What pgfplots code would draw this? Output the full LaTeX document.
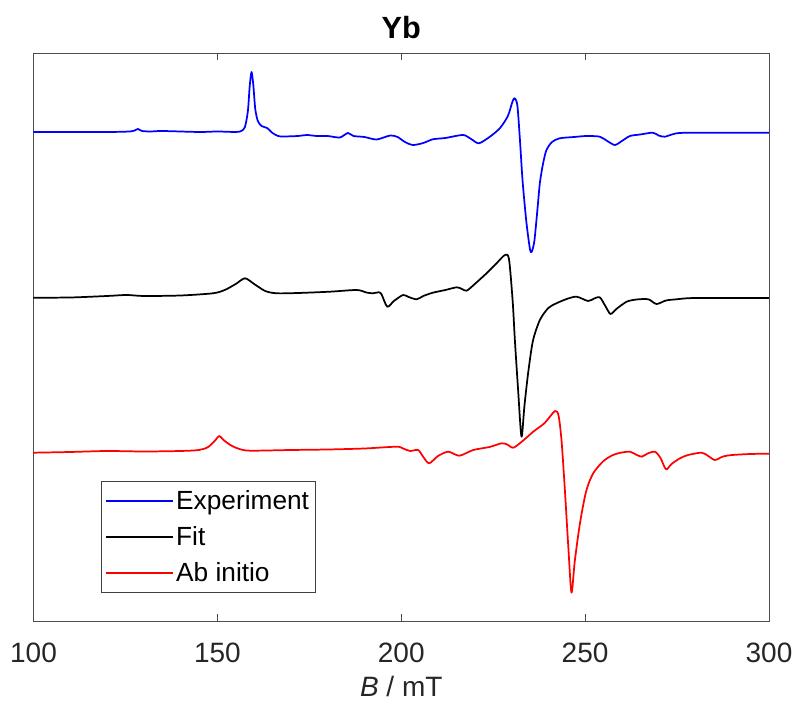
\documentclass[border=0pt]{standalone}
\usepackage{pgfplots}
\pgfplotsset{compat=1.18}
\usepackage{fontspec}
\setmainfont{Liberation Sans}
\definecolor{axgray}{RGB}{38,38,38}
\pgfplotsset{every axis plot/.append style={legend image code/.code={\draw[##1,line width=1.3pt] (0pt,0pt) -- (50pt,0pt);}}}
\begin{document}
\begin{tikzpicture}
\useasboundingbox (-25.125pt,-66pt) rectangle (574.125pt,465.75pt);
\begin{axis}[
  at={(0,0)}, anchor=south west,
  scale only axis, width=551.6pt, height=426pt,
  xmin=100, xmax=300, ymin=0, ymax=568,
  xtick={100,150,200,250,300}, ytick=\empty,
  tick align=inside, major tick length=5pt,
  axis line style={draw=black!70, line width=0.6pt},
  every tick/.style={draw=black!70, line width=0.6pt},
  /pgf/number format/assume math mode=true,
  ticklabel style={font=\fontsize{21}{24}\selectfont, text=axgray},
  xticklabel style={yshift=-13pt},
  title={\bfseries Yb},
  title style={font=\fontsize{23}{26}\selectfont, text=black, yshift=1pt},
  xlabel={\textit{B} / mT},
  xlabel style={font=\fontsize{21}{24}\selectfont, text=axgray, yshift=-3pt},
  legend style={at={(0.0914,0.0493)}, anchor=south west, draw=black!75,
    font=\fontsize{19.7}{22}\selectfont, line width=0.6pt,
    inner xsep=3pt, inner ysep=5pt, row sep=7pt},
  legend cell align=left,
  every axis plot/.append style={line width=1.3pt, line join=round, smooth, tension=0.45},
]
\addplot[blue] coordinates {
(100,489)(120,489)(126,489.5)(127.5,490.5)(128.4,492)(129.5,490)(132,489.5)(135,490)
(145,489)(150,489.5)(155,489)(156.5,490)(157.5,494)(158.3,510)(158.8,535)(159.3,549)
(159.8,535)(160.3,512)(161,500)(162,495)(163.5,493)(165,488)(166.5,485)(168,484.5)
(172,485)(174.3,486)(177,485)(180,485)(183.3,483.5)(185.5,488)(187,485)(190,484)
(193.3,481.5)(197,485.5)(199,484)(201,479)(203.2,476)(206,478)(208.6,481.7)(212,483)
(216.8,486)(219,482)(221.1,477.7)(224,484)(226.8,492.7)(229,505)(230.3,520)(230.9,522.7)
(231.6,515)(232.3,480)(233,440)(234,400)(235,372)(235.5,369.3)(236.2,380)(237,410)
(237.7,438)(238.6,458)(239.5,471)(241,479)(243.1,482.7)(247,484)(250.4,485)(254,484.3)
(256,480)(258.1,476)(260,480)(262.2,485)(265,486.5)(268.4,488.3)(270,485.5)(271.7,484.3)
(274.9,487.7)(280,488.3)(300,488.3)
};
\addlegendentry{Experiment}
\addplot[black] coordinates {
(100,323.3)(110,323.5)(120,325)(125.3,326)(130,325)(140,325.5)(148.8,327.7)(152,331)
(155,337)(157.5,342.7)(160,337)(163,330)(166.1,327.7)(172,328)(180.6,329.3)(187.9,331)
(190.5,328.5)(192.3,327.7)(193.8,328.7)(194.6,327)(196.2,314.3)(198,320)(200.5,326)
(202,324)(204.2,321.7)(206,325)(208.6,328.3)(212,331)(215.1,333.7)(216.5,332)(217.8,330.3)
(220,337)(223.2,347.7)(226,358)(228.2,366)(229.3,362)(230.3,320)(230.9,281)(231.8,230)
(232.7,184.3)(233.5,215)(234.5,247.7)(235.8,280)(237.7,301)(240,313)(242.2,317.7)
(245,322)(247.7,324.3)(250.8,320)(252.5,322.5)(254,323.7)(255.5,315)(256.9,307)
(258.5,312)(261.3,319.3)(264,321.5)(267.2,321.7)(269.4,317)(272,320.5)(274.9,321.7)
(280,323)(300,323)
};
\addlegendentry{Fit}
\addplot[red] coordinates {
(100,168.3)(110,169)(119.9,170)(130,169.5)(140,170)(145,171)(147.5,174)(149.5,181)
(150.5,185)(152,180)(154,175)(156,172)(158.9,170.3)(170,171)(180,171.5)(190,172.5)
(198.7,174.3)(200.5,172.5)(202.4,170)(204.6,171)(206,164)(207.6,157.7)(210,165)
(212.8,169.3)(215.8,165.3)(219.6,171)(224,174)(227.3,177.7)(228.8,176.5)(230.5,173.3)
(233,180)(235.9,189.3)(239,198)(241.8,210)(242.8,205)(243.6,180)(244.5,131)(245.5,70)
(246.3,28.3)(247.2,60)(248.6,97.7)(250.3,130)(252.2,147.7)(255,160)(257.6,166)
(260,168.5)(262.2,169.3)(263.8,166.5)(265.4,164.3)(267,167.5)(269,169.3)(270.5,163)
(272,151.7)(273.5,157)(275.8,162.7)(278,166)(281.7,168.3)(283.5,165)(285.3,161)
(287.5,164.5)(290,166)(295,167)(300,167.3)
};
\addlegendentry{Ab initio}
\end{axis}
\end{tikzpicture}
\end{document}
